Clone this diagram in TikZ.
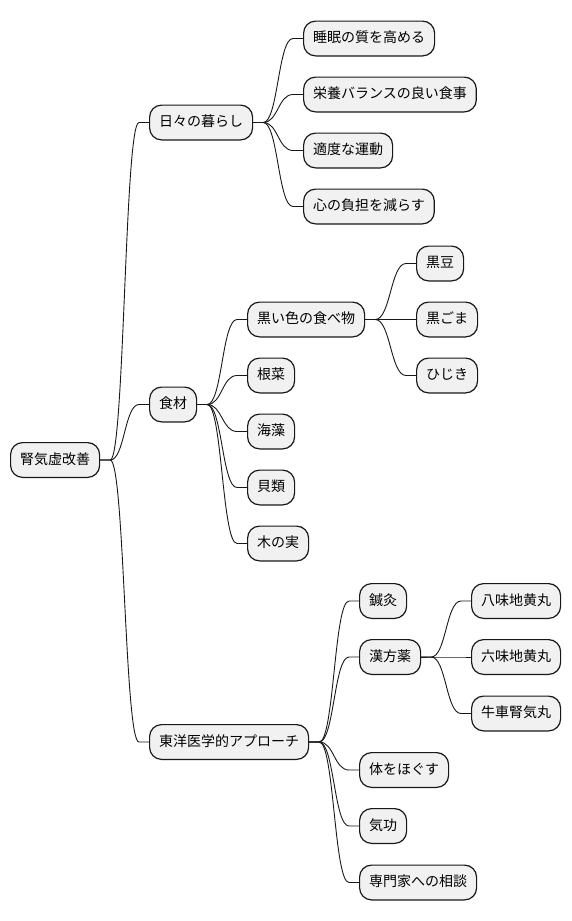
\documentclass[tikz,border=0pt]{standalone}
\usepackage{fontspec}
\setmainfont{Noto Sans CJK JP}
\usepackage{xcolor}
\usetikzlibrary{calc}
\definecolor{box}{RGB}{241, 241, 241}
\definecolor{ink}{RGB}{24, 24, 24}

\begin{document}
\begin{tikzpicture}[x=1pt, y=-1pt,
    topic/.style={draw=ink, fill=box, line width=1.2pt, rounded corners=12pt, anchor=west,
      minimum height=34.8pt, inner xsep=9.5pt, inner ysep=0pt, font=\fontsize{14pt}{16pt}\selectfont,
      text height=10.5pt, text depth=2pt},
    branch/.style={draw=ink, line width=0.9pt}]
      \useasboundingbox (0, 0) rectangle (572, 921);
      \node[topic] (kidney) at (10, 460) {腎気虚改善};
      \node[topic] (daily) at (149, 122.5) {日々の暮らし};
      \node[topic] (sleep) at (303, 38.5) {睡眠の質を高める};
      \node[topic] (meal) at (303, 94.5) {栄養バランスの良い食事};
      \node[topic] (exercise) at (303, 150.5) {適度な運動};
      \node[topic] (mind) at (303, 206.5) {心の負担を減らす};
      \node[topic] (food) at (149, 404.5) {食材};
      \node[topic] (black) at (247, 319.5) {黒い色の食べ物};
      \node[topic] (bean) at (416, 263.5) {黒豆};
      \node[topic] (sesame) at (416, 319.5) {黒ごま};
      \node[topic] (hijiki) at (416, 375.5) {ひじき};
      \node[topic] (rootveg) at (247, 375.5) {根菜};
      \node[topic] (seaweed) at (247, 431.5) {海藻};
      \node[topic] (shell) at (247, 487.5) {貝類};
      \node[topic] (nuts) at (247, 543.5) {木の実};
      \node[topic] (eastern) at (149, 742) {東洋医学的アプローチ};
      \node[topic] (acu) at (359, 601) {鍼灸};
      \node[topic] (kampo) at (359, 657) {漢方薬};
      \node[topic] (hachimi) at (471, 601) {八味地黄丸};
      \node[topic] (rokumi) at (471, 657) {六味地黄丸};
      \node[topic] (gosha) at (471, 713.5) {牛車腎気丸};
      \node[topic] (stretch) at (359, 770) {体をほぐす};
      \node[topic] (qigong) at (359, 826) {気功};
      \node[topic] (consult) at (359, 882.5) {専門家への相談};
      \foreach \p/\c in {kidney/daily, kidney/food, kidney/eastern,
          daily/sleep, daily/meal, daily/exercise, daily/mind,
          food/black, food/rootveg, food/seaweed, food/shell, food/nuts,
          black/bean, black/sesame, black/hijiki,
          eastern/acu, eastern/kampo, eastern/stretch, eastern/qigong, eastern/consult,
          kampo/hachimi, kampo/rokumi, kampo/gosha} {
        \path (\p.east) ++(10, 0) coordinate (s);
        \path (\c.west) ++(-10, 0) coordinate (e);
        \coordinate (m) at ($(s)!0.5!(e)$);
        \draw[branch] (\p.east) -- (s) .. controls (m |- s) and (m |- e) .. (e) -- (\c.west);
      }
    \end{tikzpicture}
\end{document}
